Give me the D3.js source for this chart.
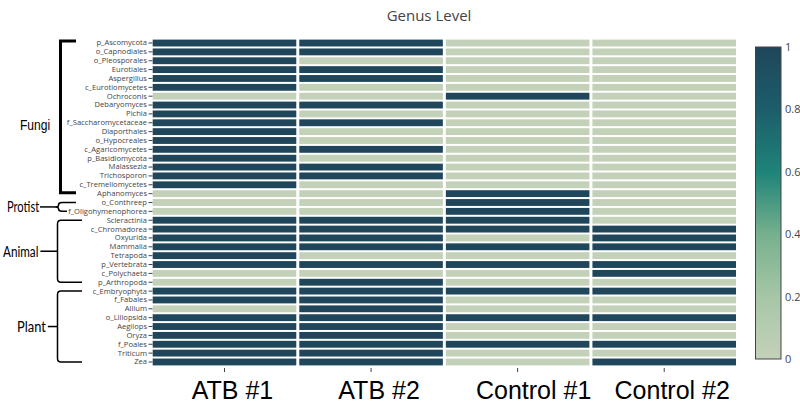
<!DOCTYPE html>
<html><head><meta charset="utf-8">
<script src="https://cdn.jsdelivr.net/npm/d3@7"></script>
<style>body{margin:0;background:#fff}svg{display:block}</style>
</head><body><svg id="c" width="800" height="404"></svg>
<script>
const samples = ["ATB #1","ATB #2","Control #1","Control #2"];
const taxa = ["p_Ascomycota","o_Capnodiales","o_Pleosporales","Eurotiales","Aspergillus","c_Eurotiomycetes","Ochroconis","Debaryomyces","Pichia","f_Saccharomycetaceae","Diaporthales","o_Hypocreales","c_Agaricomycetes","p_Basidiomycota","Malassezia","Trichosporon","c_Tremellomycetes",
"Aphanomyces","o_Conthreep","f_Oligohymenophorea",
"Scleractinia","c_Chromadorea","Oxyurida","Mammalia","Tetrapoda","p_Vertebrata","c_Polychaeta","p_Arthropoda",
"c_Embryophyta","f_Fabales","Allium","o_Liliopsida","Aegilops","Oryza","f_Poales","Triticum","Zea"];
const atb1 = [1,1,1,1,1,1,0,1,1,1,1,1,1,1,1,1,1, 0,0,0, 1,1,1,1,1,1,0,0, 1,1,0,1,1,1,1,1,1];
const atb2 = [1,1,0,1,1,0,0,1,0,1,0,0,1,0,1,1,0, 0,0,0, 1,1,1,1,0,1,0,1, 1,1,1,1,1,1,1,1,1];
const ctrl1 = [0,0,0,0,0,0,1,0,0,0,0,0,0,0,0,0,0, 1,1,1, 1,1,0,1,0,1,0,0, 1,0,0,1,0,0,1,0,0];
const ctrl2 = [0,0,0,0,0,0,0,0,0,0,0,0,0,0,0,0,0, 0,0,0, 0,1,1,1,0,1,1,0, 1,0,0,1,0,0,1,0,1];
const groups = ["Fungi","Protist","Animal","Plant"];
const groupStart = ["p_Ascomycota","o_Conthreep","Scleractinia","c_Embryophyta"];
const groupEnd = ["Aphanomyces","f_Oligohymenophorea","p_Arthropoda","Zea"];
const cbTicks = [0,0.2,0.4,0.6,0.8,1];
const title = "Genus Level";

const series = [atb1, atb2, ctrl1, ctrl2];
const cells = [];
samples.forEach((s,i)=>taxa.forEach((t,j)=>cells.push({s,t,v:series[i][j]})));

const svg = d3.select("#c");
const x = d3.scaleBand().domain(samples).range([151.2, 737.5]);
const y = d3.scaleBand().domain(taxa).range([38.6, 366.4]);
const yc = t => y(t) + y.bandwidth()/2;
const stops = [[0,"#c3d1b9"],[0.2,"#a6c6a6"],[0.4,"#76b08e"],[0.6,"#1e8378"],[0.8,"#1c5d6b"],[1,"#1f465b"]];
const color = d3.scaleLinear().domain(stops.map(d=>d[0])).range(stops.map(d=>d[1])).interpolate(d3.interpolateRgb);

svg.append("text").attr("x",429).attr("y",21).attr("text-anchor","middle")
  .attr("font-family","'Open Sans'").attr("font-size",15).attr("fill","#444").text(title);

svg.append("g").selectAll("rect").data(cells).join("rect")
  .attr("x",d=>x(d.s)+1.5).attr("width",x.bandwidth()-3)
  .attr("y",d=>y(d.t)+1).attr("height",y.bandwidth()-2)
  .attr("fill",d=>color(d.v));

// y axis labels
const ya = svg.append("g").attr("transform","translate(152.5,0)")
  .call(d3.axisLeft(y).tickSize(4).tickPadding(1.5));
ya.select(".domain").remove();
ya.selectAll("line").attr("stroke","#444");
ya.selectAll("text").attr("font-family","'Open Sans'").attr("font-size",7.6).attr("fill","#444");

// x axis ticks
const xa = svg.append("g").attr("transform","translate(0,368)")
  .call(d3.axisBottom(x).tickSize(4).tickFormat(""));
xa.select(".domain").remove();
xa.selectAll("line").attr("stroke","#444");
svg.append("g").selectAll("text").data(samples).join("text")
  .attr("x",d=>x(d)+x.bandwidth()/2+ (d==="Control #1"?16:8)).attr("y",399).attr("text-anchor","middle")
  .attr("font-family","'Liberation Sans', Arial").attr("font-size",25).attr("fill","#000").text(d=>d);

// colorbar
const cy = d3.scaleLinear().domain([0,1]).range([359,47]);
const defs = svg.append("defs");
const lg = defs.append("linearGradient").attr("id","cb").attr("x1",0).attr("x2",0).attr("y1",1).attr("y2",0);
d3.range(0,1.0001,0.05).forEach(v=>lg.append("stop").attr("offset",v).attr("stop-color",color(v)));
svg.append("rect").attr("x",755.5).attr("y",cy(1)).attr("width",25.5).attr("height",cy(0)-cy(1))
  .attr("fill","url(#cb)").attr("stroke","#444").attr("stroke-width",1);
svg.append("g").selectAll("text").data(cbTicks).join("text")
  .attr("x",785).attr("y",d=>cy(d)+4).attr("font-family","'Open Sans'").attr("font-size",11).attr("fill","#444")
  .text(d=>d3.format("")(d));

const br = svg.append("g").attr("fill","none").attr("stroke","#000");
function label(txt, x0, yc, fam, size, sx){
  return svg.append("text").attr("transform",`translate(${x0},${yc}) scale(${sx},1)`)
    .attr("dy","0.36em").attr("font-family",fam).attr("font-size",size).attr("fill","#000").text(txt);
}
// Fungi: thick square bracket
{ const y0 = y(groupStart[0])+2.5, y1 = yc(groupEnd[0])-1;
  br.append("path").attr("stroke-width",3).attr("d",`M76,${y0}H60.5V${y1}H76`);
  label(groups[0], 20, 125, "'Liberation Sans', Arial", 14, 0.86); }
// Protist: small brace
{ const y0 = yc(groupStart[1]), y1 = yc(groupEnd[1]), m=(y0+y1)/2;
  br.append("path").attr("stroke-width",1.5).attr("d",`M76,${y0}H62Q58.5,${y0} 58.5,${y0+2.5}V${m-1.5}Q58.5,${m} 55,${m}Q58.5,${m} 58.5,${m+1.5}V${y1-2.5}Q58.5,${y1} 62,${y1}H67`);
  br.append("path").attr("stroke-width",1.5).attr("d",`M40,${m}H55`);
  label(groups[1], 7, m, "Lato", 15, 0.74); }
// Animal, Plant: rounded brackets
[2,3].forEach(i=>{ const y0 = yc(groupStart[i]), y1 = yc(groupEnd[i]), m=(y0+y1)/2;
  br.append("path").attr("stroke-width",1.5).attr("d",`M82,${y0}H61Q57.5,${y0} 57.5,${y0+3.5}V${y1-3.5}Q57.5,${y1} 61,${y1}H82`);
  const tx = i===2?3:17;
  const t = label(groups[i], tx, m, "Lato", 15, i===2?0.78:0.86);
  const w = t.node().getComputedTextLength()*(i===2?0.78:0.86);
  br.append("path").attr("stroke-width",1.5).attr("d",`M${tx+w+2},${m}H57.5`);
});
</script></body></html>
